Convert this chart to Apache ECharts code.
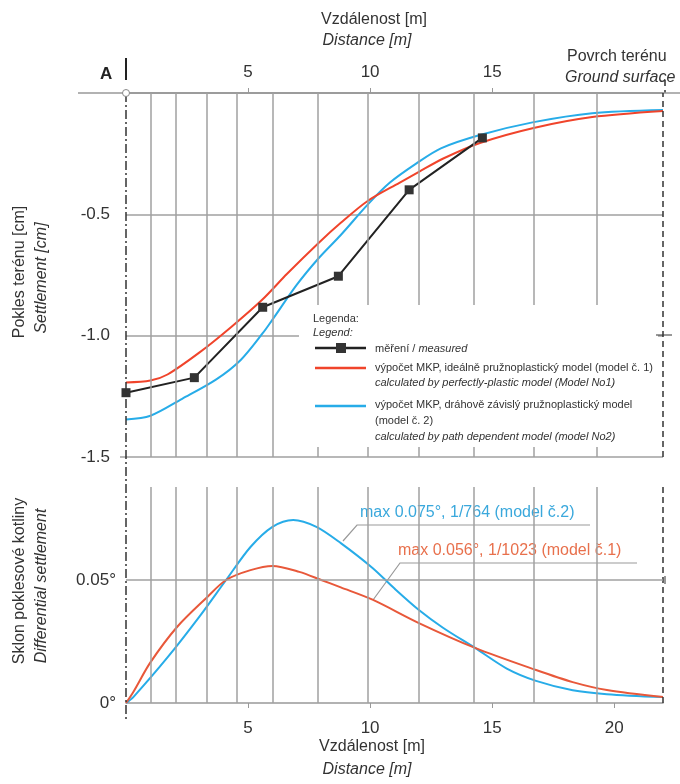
<!doctype html>
<html lang="cs">
<head>
<meta charset="UTF-8">
<title>Pokles terénu</title>
<style>
  html, body { margin: 0; padding: 0; background: #fff; }
  #chart { width: 680px; height: 784px; }
</style>
<script src="https://cdn.jsdelivr.net/npm/echarts@6/dist/echarts.min.js"></script>
</head>
<body>
<div id="chart"></div>
<script>
// horní graf - pokles terénu [cm]
var measX = [0, 2.8, 5.6, 8.7, 11.6, 14.6];
var measY = [-1.235, -1.173, -0.883, -0.755, -0.399, -0.185];

var m1X = [0, 1, 1.7, 3.0, 4.3, 5.6, 6.6, 7.9, 8.8, 9.9, 11.2, 12.0, 13.0, 14.5, 16.7, 19.1, 22];
var m1Y = [-1.193, -1.185, -1.16, -1.07, -0.965, -0.85, -0.745, -0.617, -0.535, -0.445, -0.37, -0.325, -0.27, -0.206, -0.144, -0.099, -0.074];

var m2X = [0, 1, 2.3, 3.7, 4.7, 5.6, 6.0, 7.0, 7.9, 8.8, 9.9, 10.8, 11.9, 12.9, 14.5, 16.7, 19.1, 22];
var m2Y = [-1.345, -1.33, -1.26, -1.18, -1.10, -0.99, -0.934, -0.79, -0.68, -0.585, -0.46, -0.37, -0.29, -0.228, -0.173, -0.12, -0.083, -0.07];

// dolní graf - sklon poklesové kotliny [°]
var s1X = [0, 0.3, 1.0, 2.1, 3.3, 4.1, 5.1, 6.0, 7.1, 8.0, 8.8, 10.1, 12.0, 14.3, 16.8, 18.3, 19.7, 22];
var s1Y = [0, 0.0045, 0.0165, 0.031, 0.0428, 0.05, 0.054, 0.0557, 0.0533, 0.05, 0.047, 0.042, 0.0325, 0.0224, 0.0134, 0.0085, 0.0053, 0.0024];

var s2X = [0, 0.3, 1.7, 3.0, 4.1, 5.1, 6.0, 6.85, 7.8, 8.8, 10.1, 11.0, 12.0, 13.0, 14.3, 15.6, 16.8, 18.3, 19.7, 22];
var s2Y = [0, 0.0024, 0.0185, 0.035, 0.05, 0.0634, 0.0716, 0.0744, 0.0716, 0.065, 0.0549, 0.0465, 0.0378, 0.0305, 0.0224, 0.014, 0.009, 0.0052, 0.0036, 0.0024];

// svislé čáry sítě (vzdálenost [m])
var gridX = [1.0, 2.05, 3.3, 4.55, 6.0, 7.85, 9.9, 12.0, 14.25, 16.7, 19.3];
var topTicks = [5, 10, 15];
var bottomTicks = [5, 10, 15, 20];
var topYTicks = [-0.5, -1.0, -1.5];
var bottomYTicks = [0, 0.05];

function zip(xs, ys) {
  var out = [];
  for (var i = 0; i < xs.length; i++) out.push([xs[i], ys[i]]);
  return out;
}

var FONT = "'Liberation Sans', Arial, sans-serif";
var GRIDC = '#a0a0a0';
var RED1 = '#f0442b';
var BLUE = '#27ace8';
var RED2 = '#e8583a';

var vLines = gridX.map(function (v) { return { xAxis: v }; });
vLines.push({ xAxis: 22, lineStyle: { type: [6, 4], color: '#333', width: 1.5 } });

var myChart = echarts.init(document.getElementById('chart'));

var option = {
  animation: false,
  textStyle: { fontFamily: FONT },
  grid: [
    { left: 126, right: 17, top: 93, height: 364 },
    { left: 126, right: 17, top: 487, height: 216 }
  ],
  xAxis: [
    {
      gridIndex: 0, type: 'value', position: 'top', min: 0, max: 22, interval: 5,
      axisLine: { lineStyle: { color: '#999', width: 1.5 } },
      axisTick: { show: true, length: 5, customValues: topTicks, lineStyle: { color: '#999' } },
      axisLabel: { customValues: topTicks, margin: 12, fontSize: 17, color: '#333', fontFamily: FONT },
      splitLine: { show: false }
    },
    {
      gridIndex: 1, type: 'value', position: 'bottom', min: 0, max: 22, interval: 5,
      axisLine: { lineStyle: { color: '#999', width: 1.5 } },
      axisTick: { show: true, length: 5, customValues: bottomTicks, lineStyle: { color: '#999' } },
      axisLabel: { customValues: bottomTicks, margin: 17, fontSize: 17, color: '#333', fontFamily: FONT },
      splitLine: { show: false }
    }
  ],
  yAxis: [
    {
      gridIndex: 0, type: 'value', min: -1.5, max: 0, interval: 0.5,
      axisLine: { show: false },
      axisTick: { show: false },
      axisLabel: {
        customValues: topYTicks, margin: 16, fontSize: 17, color: '#333', fontFamily: FONT,
        formatter: function (v) { return v.toFixed(1); }
      },
      splitLine: { show: true, lineStyle: { color: GRIDC, width: 1.5 } }
    },
    {
      gridIndex: 1, type: 'value', min: 0, max: 0.0878, interval: 0.05,
      axisLine: { show: false },
      axisTick: { show: false },
      axisLabel: {
        customValues: bottomYTicks, margin: 10, fontSize: 17, color: '#333', fontFamily: FONT,
        formatter: function (v) { return v === 0 ? '0°' : v.toFixed(2) + '°'; }
      },
      splitLine: { show: false }
    }
  ],
  series: [
    {
      name: 'model 2', type: 'line', xAxisIndex: 0, yAxisIndex: 0,
      data: zip(m2X, m2Y), smooth: 0.3, symbol: 'none',
      lineStyle: { color: BLUE, width: 2 }, z: 3,
      markLine: {
        silent: true, symbol: ['none', 'none'], label: { show: false },
        lineStyle: { color: GRIDC, width: 1.5, type: 'solid' },
        data: vLines
      }
    },
    {
      name: 'model 1', type: 'line', xAxisIndex: 0, yAxisIndex: 0,
      data: zip(m1X, m1Y), smooth: 0.3, symbol: 'none',
      lineStyle: { color: RED1, width: 2 }, z: 3
    },
    {
      name: 'měření', type: 'line', xAxisIndex: 0, yAxisIndex: 0,
      data: zip(measX, measY), symbol: 'rect', symbolSize: 9,
      itemStyle: { color: '#333' },
      lineStyle: { color: '#222', width: 2 }, z: 4
    },
    {
      name: 'sklon model 2', type: 'line', xAxisIndex: 1, yAxisIndex: 1,
      data: zip(s2X, s2Y), smooth: 0.3, symbol: 'none',
      lineStyle: { color: BLUE, width: 2 }, z: 3,
      markLine: {
        silent: true, symbol: ['none', 'none'], label: { show: false },
        lineStyle: { color: GRIDC, width: 1.5, type: 'solid' },
        data: vLines.concat([{ yAxis: 0.05 }])
      }
    },
    {
      name: 'sklon model 1', type: 'line', xAxisIndex: 1, yAxisIndex: 1,
      data: zip(s1X, s1Y), smooth: 0.3, symbol: 'none',
      lineStyle: { color: RED2, width: 2 }, z: 3
    }
  ],
  graphic: [
    // osa x=0 (čerchovaná)
    { type: 'line', shape: { x1: 126, y1: 93, x2: 126, y2: 722 }, style: { stroke: '#333', lineWidth: 1.5, lineDash: [9, 3, 2, 3] }, z: 5 },
    { type: 'line', shape: { x1: 665, y1: 80, x2: 665, y2: 93 }, style: { stroke: '#333', lineWidth: 1.5, lineDash: [6, 4] } },
    { type: 'line', shape: { x1: 78, y1: 93, x2: 680, y2: 93 }, style: { stroke: '#999', lineWidth: 1.5 } },
    { type: 'line', shape: { x1: 126, y1: 58, x2: 126, y2: 80 }, style: { stroke: '#222', lineWidth: 2 } },
    { type: 'circle', shape: { cx: 126, cy: 93, r: 3.5 }, style: { fill: '#fff', stroke: '#888', lineWidth: 1 }, z: 6 },
    { type: 'line', shape: { x1: 120, y1: 457, x2: 126, y2: 457 }, style: { stroke: GRIDC, lineWidth: 1.5 } },
    { type: 'line', shape: { x1: 665, y1: 576, x2: 665, y2: 584 }, style: { stroke: '#333', lineWidth: 1 } },
    { type: 'text', left: 100, top: 66, style: { text: 'A', font: 'bold 17px ' + FONT, fill: '#222' } },

    // titulky os
    { type: 'text', x: 374, y: 20, style: { text: 'Vzdálenost [m]', font: '16px ' + FONT, fill: '#333', align: 'center', verticalAlign: 'middle' } },
    { type: 'text', x: 367, y: 41, style: { text: 'Distance [m]', font: 'italic 16px ' + FONT, fill: '#333', align: 'center', verticalAlign: 'middle' } },
    { type: 'text', x: 567, y: 57, style: { text: 'Povrch terénu', font: '16px ' + FONT, fill: '#333', verticalAlign: 'middle' } },
    { type: 'text', x: 565, y: 78, style: { text: 'Ground surface', font: 'italic 16px ' + FONT, fill: '#333', verticalAlign: 'middle' } },
    { type: 'text', x: 372, y: 747, style: { text: 'Vzdálenost [m]', font: '16px ' + FONT, fill: '#333', align: 'center', verticalAlign: 'middle' } },
    { type: 'text', x: 367, y: 770, style: { text: 'Distance [m]', font: 'italic 16px ' + FONT, fill: '#333', align: 'center', verticalAlign: 'middle' } },
    { type: 'text', x: 20, y: 272, rotation: Math.PI / 2, style: { text: 'Pokles terénu [cm]', font: '16px ' + FONT, fill: '#333', align: 'center', verticalAlign: 'middle' } },
    { type: 'text', x: 42, y: 278, rotation: Math.PI / 2, style: { text: 'Settlement [cm]', font: 'italic 16px ' + FONT, fill: '#333', align: 'center', verticalAlign: 'middle' } },
    { type: 'text', x: 20, y: 581, rotation: Math.PI / 2, style: { text: 'Sklon poklesové kotliny', font: '16px ' + FONT, fill: '#333', align: 'center', verticalAlign: 'middle' } },
    { type: 'text', x: 42, y: 586, rotation: Math.PI / 2, style: { text: 'Differential settlement', font: 'italic 16px ' + FONT, fill: '#333', align: 'center', verticalAlign: 'middle' } },

    // popisky maxim
    { type: 'polyline', shape: { points: [[343, 541], [357, 525], [590, 525]] }, style: { stroke: '#999', lineWidth: 1.2, fill: null } },
    { type: 'text', x: 360, y: 513, style: { text: 'max 0.075°, 1/764 (model č.2)', font: '16px ' + FONT, fill: '#3aa8dc', verticalAlign: 'middle' } },
    { type: 'polyline', shape: { points: [[373, 600], [400, 563], [637, 563]] }, style: { stroke: '#999', lineWidth: 1.2, fill: null } },
    { type: 'text', x: 398, y: 551, style: { text: 'max 0.056°, 1/1023 (model č.1)', font: '16px ' + FONT, fill: '#e8704c', verticalAlign: 'middle' } },

    // legenda (bílé pozadí)
    { type: 'rect', shape: { x: 299, y: 305, width: 359, height: 142 }, style: { fill: '#fff' }, z: 10 },
    { type: 'line', shape: { x1: 656, y1: 335, x2: 672, y2: 335 }, style: { stroke: '#333', lineWidth: 1 }, z: 11 },
    { type: 'text', x: 313, y: 319, z: 11, style: { text: 'Legenda:', font: '11px ' + FONT, fill: '#333', verticalAlign: 'middle' } },
    { type: 'text', x: 313, y: 333, z: 11, style: { text: 'Legend:', font: 'italic 11px ' + FONT, fill: '#333', verticalAlign: 'middle' } },
    { type: 'line', z: 11, shape: { x1: 315, y1: 348, x2: 366, y2: 348 }, style: { stroke: '#222', lineWidth: 2.5 } },
    { type: 'rect', z: 11, shape: { x: 336, y: 343, width: 10, height: 10 }, style: { fill: '#333' } },
    { type: 'text', x: 375, y: 349, z: 11, style: { rich: { n: { font: '11px ' + FONT, fill: '#333' }, i: { font: 'italic 11px ' + FONT, fill: '#333' } }, text: '{n|měření / }{i|measured}', verticalAlign: 'middle' } },
    { type: 'line', z: 11, shape: { x1: 315, y1: 368, x2: 366, y2: 368 }, style: { stroke: RED1, lineWidth: 2.5 } },
    { type: 'text', x: 375, y: 368, z: 11, style: { text: 'výpočet MKP, ideálně pružnoplastický model (model č. 1)', font: '11px ' + FONT, fill: '#333', verticalAlign: 'middle' } },
    { type: 'text', x: 375, y: 383, z: 11, style: { text: 'calculated by perfectly-plastic model (Model No1)', font: 'italic 11px ' + FONT, fill: '#333', verticalAlign: 'middle' } },
    { type: 'line', z: 11, shape: { x1: 315, y1: 406, x2: 366, y2: 406 }, style: { stroke: BLUE, lineWidth: 2.5 } },
    { type: 'text', x: 375, y: 405, z: 11, style: { text: 'výpočet MKP, dráhově závislý pružnoplastický model', font: '11px ' + FONT, fill: '#333', verticalAlign: 'middle' } },
    { type: 'text', x: 375, y: 421, z: 11, style: { text: '(model č. 2)', font: '11px ' + FONT, fill: '#333', verticalAlign: 'middle' } },
    { type: 'text', x: 375, y: 437, z: 11, style: { text: 'calculated by path dependent model (model No2)', font: 'italic 11px ' + FONT, fill: '#333', verticalAlign: 'middle' } }
  ]
};

myChart.setOption(option);

window.onresize = function () {
  myChart.resize();
};
</script>
</body>
</html>
